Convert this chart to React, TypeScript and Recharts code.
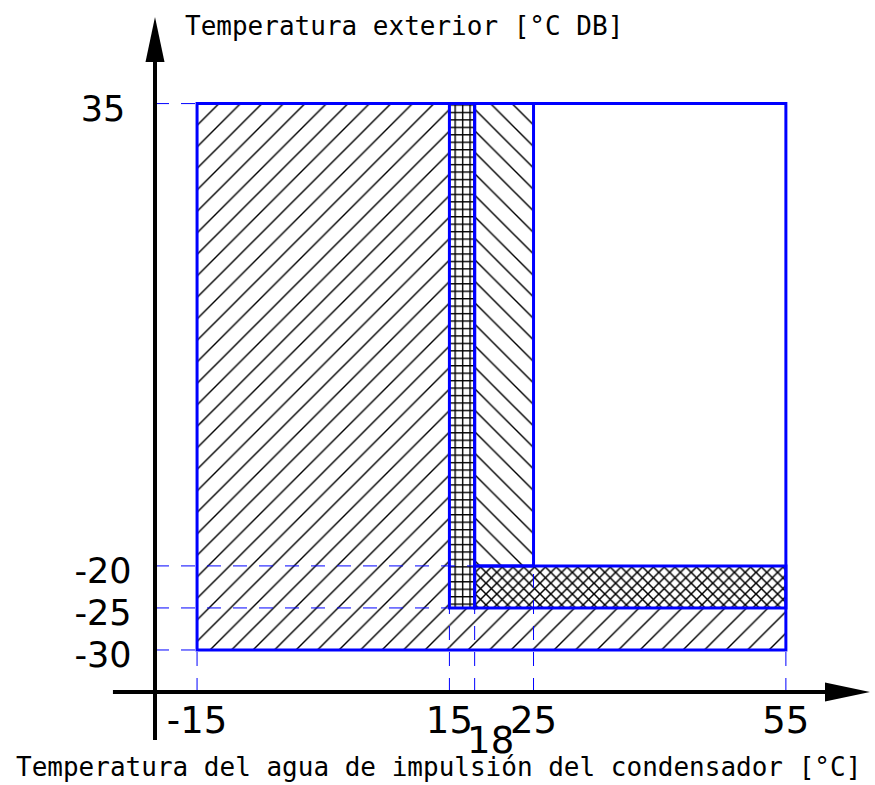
import React from 'react';
import { ComposedChart, XAxis, YAxis, ReferenceArea, ReferenceLine } from 'recharts';

// condenser supply water temperature [°C]
const waterTicks = [-15, 15, 18, 25, 55];
// outdoor temperature [°C DB]
const outdoorTicks = [35, -20, -25, -30];

// where each dashed guide stops (data units), one per tick above
const outdoorGuideEnds = [-15, 18, 18, -15];
const waterGuideEnds = [-30, -25, -25, -20, -30];

// operating zones
const zones = [
  { name: 'mainLeft', x1: -15, x2: 15, y1: -30, y2: 35 },
  { name: 'mainBottom', x1: 15, x2: 55, y1: -30, y2: -25 },
  { name: 'mid', x1: 18, x2: 25, y1: -20, y2: 35 },
  { name: 'narrow', x1: 15, x2: 18, y1: -25, y2: 35 },
  { name: 'strip', x1: 18, x2: 55, y1: -25, y2: -20 },
];
const envelope = { x1: -15, x2: 55, y1: -30, y2: 35 };

// axes cross here, and run over these ranges
const origin = { x: -20, y: -35 };
const xAxisRange = [-25, 65];
const yAxisRange = [-40.7, 45.3];

const BLUE = '#0000ff';
const zoneFill: Record<string, string> = {
  mainLeft: 'url(#hatchFwd)',
  mainBottom: 'url(#hatchFwd)',
  mid: 'url(#hatchBack)',
  narrow: 'url(#hatchGrid)',
  strip: 'url(#hatchCross)',
};
const zoneOutlined: Record<string, boolean> = { mid: true, narrow: true, strip: true };

const ArrowLine = (props: any) => {
  const { x1, y1, x2, y2 } = props;
  const len = Math.hypot(x2 - x1, y2 - y1);
  const ux = (x2 - x1) / len;
  const uy = (y2 - y1) / len;
  const L = 45;
  const W = 9.5;
  const bx = x2 - ux * L;
  const by = y2 - uy * L;
  return (
    <g>
      <line x1={x1} y1={y1} x2={bx + ux * 10} y2={by + uy * 10} stroke="#000" strokeWidth={4} />
      <polygon
        points={`${x2},${y2} ${bx - uy * W},${by + ux * W} ${bx + uy * W},${by - ux * W}`}
        fill="#000"
      />
    </g>
  );
};

const XTick = ({ x, y, payload }: any) => {
  const low = payload.value === 18;
  return (
    <text
      x={x + (low ? 16 : 0)}
      y={y + (low ? 61 : 41)}
      textAnchor="middle"
      fontFamily="DejaVu Sans"
      fontSize={37}
      fill="#000"
    >
      {payload.value}
    </text>
  );
};

const YTick = ({ x, y, payload }: any) => (
  <text x={x - 52} y={y + 17} textAnchor="middle" fontFamily="DejaVu Sans" fontSize={35} fill="#000">
    {payload.value}
  </text>
);

export default function App() {
  return (
    <div style={{ position: 'absolute', left: 0, top: 0, background: '#fff' }}>
      <ComposedChart
        width={875}
        height={785}
        data={[]}
        margin={{ top: 17, right: 5, left: 95, bottom: 33 }}
      >
        <defs>
          <pattern id="hatchFwd" patternUnits="userSpaceOnUse" width={21.5} height={21.5}>
            <path d="M0,21.5 L21.5,0 M-5,5 L5,-5 M16.5,26.5 L26.5,16.5" stroke="#000" strokeWidth={1.4} />
          </pattern>
          <pattern id="hatchBack" patternUnits="userSpaceOnUse" width={21.5} height={21.5}>
            <path d="M0,0 L21.5,21.5 M-5,16.5 L5,26.5 M16.5,-5 L26.5,5" stroke="#000" strokeWidth={1.4} />
          </pattern>
          <pattern id="hatchGrid" patternUnits="userSpaceOnUse" width={7.45} height={7.45}>
            <path d="M0,0.7 H7.45 M0.7,0 V7.45" stroke="#000" strokeWidth={1.4} />
          </pattern>
          <pattern id="hatchCross" patternUnits="userSpaceOnUse" width={10.8} height={10.8}>
            <path d="M0,0 L10.8,10.8 M10.8,0 L0,10.8" stroke="#000" strokeWidth={1.5} />
          </pattern>
        </defs>

        <XAxis
          type="number"
          dataKey="x"
          domain={[origin.x, xAxisRange[1]]}
          allowDataOverflow
          ticks={waterTicks}
          interval={0}
          axisLine={false}
          tickLine={false}
          tickSize={0}
          tickMargin={0}
          height={60}
          tick={<XTick />}
        />
        <YAxis
          type="number"
          dataKey="y"
          domain={[origin.y, yAxisRange[1]]}
          allowDataOverflow
          ticks={outdoorTicks}
          interval={0}
          axisLine={false}
          tickLine={false}
          tickSize={0}
          tickMargin={0}
          width={60}
          tick={<YTick />}
        />

        {zones.map((z) => (
          <ReferenceArea
            key={z.name}
            x1={z.x1}
            x2={z.x2}
            y1={z.y1}
            y2={z.y2}
            fill={zoneFill[z.name]}
            fillOpacity={1}
            stroke={zoneOutlined[z.name] ? BLUE : 'none'}
            strokeWidth={3}
            ifOverflow="visible"
          />
        ))}
        <ReferenceArea
          x1={envelope.x1}
          x2={envelope.x2}
          y1={envelope.y1}
          y2={envelope.y2}
          fill="none"
          stroke={BLUE}
          strokeWidth={3}
          ifOverflow="visible"
        />

        {outdoorTicks.map((t, i) => (
          <ReferenceLine
            key={`h${t}`}
            segment={[
              { x: origin.x, y: t },
              { x: outdoorGuideEnds[i], y: t },
            ]}
            stroke={BLUE}
            strokeWidth={1}
            strokeDasharray="14 12"
            ifOverflow="visible"
          />
        ))}
        {waterTicks.map((t, i) => (
          <ReferenceLine
            key={`v${t}`}
            segment={[
              { x: t, y: origin.y },
              { x: t, y: waterGuideEnds[i] },
            ]}
            stroke={BLUE}
            strokeWidth={1}
            strokeDasharray="14 12"
            ifOverflow="visible"
          />
        ))}

        <ReferenceLine
          segment={[
            { x: xAxisRange[0], y: origin.y },
            { x: xAxisRange[1], y: origin.y },
          ]}
          ifOverflow="visible"
          shape={ArrowLine}
        />
        <ReferenceLine
          segment={[
            { x: origin.x, y: yAxisRange[0] },
            { x: origin.x, y: yAxisRange[1] },
          ]}
          ifOverflow="visible"
          shape={ArrowLine}
        />

        <text x={185} y={35} fontFamily="DejaVu Sans Mono" fontSize={26} fill="#000">
          Temperatura exterior [°C DB]
        </text>
        <text x={16} y={776} fontFamily="DejaVu Sans Mono" fontSize={26} fill="#000">
          Temperatura del agua de impulsión del condensador [°C]
        </text>
      </ComposedChart>
    </div>
  );
}
